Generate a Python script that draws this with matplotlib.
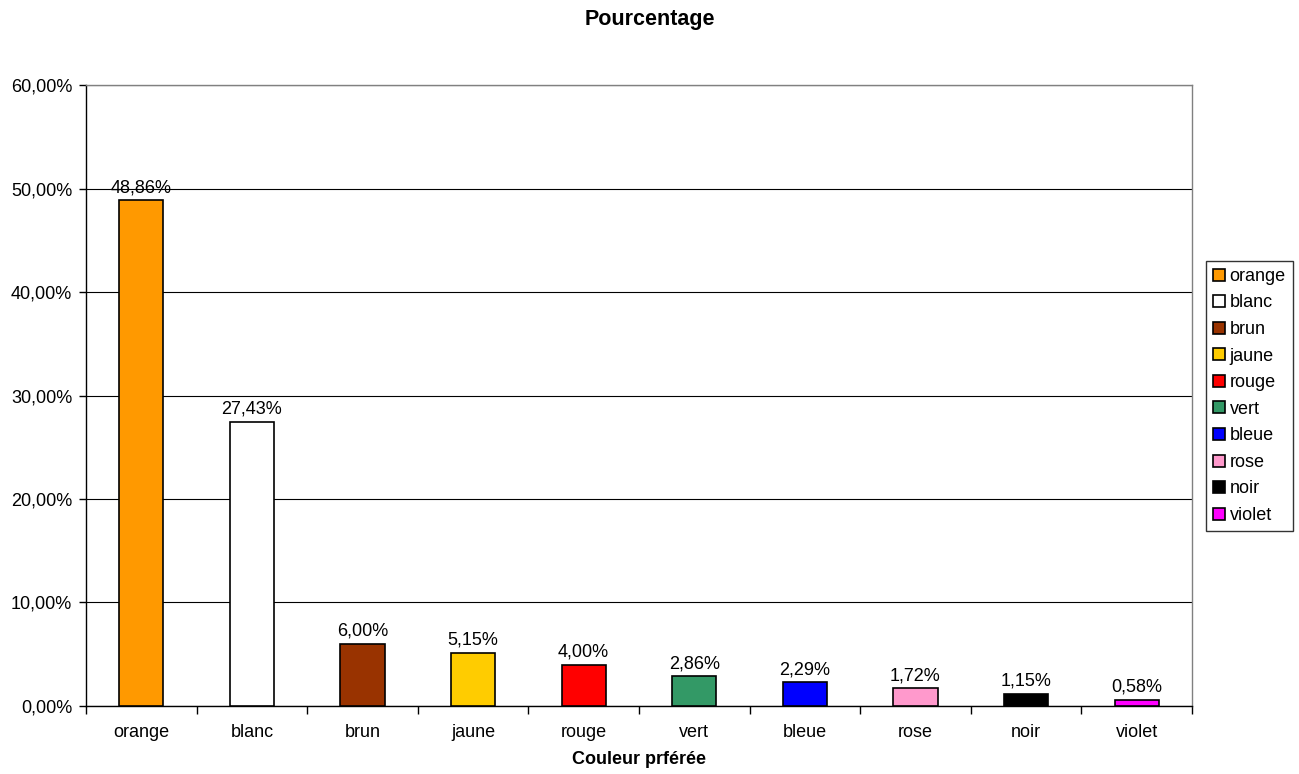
import matplotlib
matplotlib.use("Agg")
import matplotlib.pyplot as plt
from matplotlib.patches import Patch
from matplotlib.ticker import FuncFormatter, FixedLocator

# --- Donnees --------------------------------------------------------------
couleurs = ["orange", "blanc", "brun", "jaune", "rouge",
            "vert", "bleue", "rose", "noir", "violet"]
pourcentages = [48.86, 27.43, 6.00, 5.15, 4.00, 2.86, 2.29, 1.72, 1.15, 0.58]
teintes = ["#FF9900", "#FFFFFF", "#993300", "#FFCC00", "#FF0000",
           "#339966", "#0000FF", "#FF99CC", "#000000", "#FF00FF"]
y_ticks = [0, 10, 20, 30, 40, 50, 60]

plt.rcParams["font.family"] = ["Liberation Sans", "DejaVu Sans"]
plt.rcParams["font.size"] = 13

FS = 13


def fmt_pct(v, _pos=None):
    return f"{v:.2f}%".replace(".", ",")


fig = plt.figure(figsize=(12.99, 7.74), dpi=100)
ax = fig.add_axes([0.0662, 0.0879, 0.9176 - 0.0662, 0.890 - 0.0879])

x = list(range(len(couleurs)))
ax.bar(x, pourcentages, width=0.40, color=teintes,
       edgecolor="black", linewidth=1.2, zorder=3)

for xi, v in zip(x, pourcentages):
    ax.annotate(fmt_pct(v), (xi, v), xytext=(0, 3), textcoords="offset points",
                ha="center", va="bottom", fontsize=FS)

ax.set_xlim(-0.5, len(couleurs) - 0.5)
ax.set_ylim(0, 60)
ax.yaxis.set_major_locator(FixedLocator(y_ticks))
ax.yaxis.set_major_formatter(FuncFormatter(fmt_pct))
ax.yaxis.grid(True, color="black", linewidth=0.8, zorder=0)

# Ticks x aux frontieres de categories (style Excel)
ax.set_xticks([i - 0.5 for i in range(len(couleurs) + 1)])
ax.set_xticklabels([])
ax.set_xticks(x, minor=True)
ax.set_xticklabels(couleurs, minor=True, fontsize=FS)
ax.tick_params(axis="x", which="major", length=6, width=1, direction="out")
ax.tick_params(axis="x", which="minor", length=0, pad=13)
ax.tick_params(axis="y", length=5, width=1, direction="out", labelsize=FS, pad=5)

for side in ["left", "bottom"]:
    ax.spines[side].set_color("black")
    ax.spines[side].set_linewidth(1)
for side in ["top", "right"]:
    ax.spines[side].set_color("#808080")
    ax.spines[side].set_linewidth(1)

ax.set_xlabel("Couleur prférée", fontweight="bold", fontsize=FS, labelpad=7)
fig.text(0.5, 1 - 20 / 774, "Pourcentage", fontweight="bold", fontsize=15.5,
         ha="center", va="center")

handles = [Patch(facecolor=c, edgecolor="black", linewidth=1.2) for c in teintes]
leg = fig.legend(handles, couleurs, loc="center left",
                 bbox_to_anchor=(0.9285, 0.4884), frameon=True, fancybox=False,
                 edgecolor="black", fontsize=FS, handlelength=0.65,
                 handleheight=0.65, handletextpad=0.25, labelspacing=0.53,
                 borderpad=0.4, borderaxespad=0)
leg.get_frame().set_linewidth(1)

fig.savefig("out.png", dpi=100)
